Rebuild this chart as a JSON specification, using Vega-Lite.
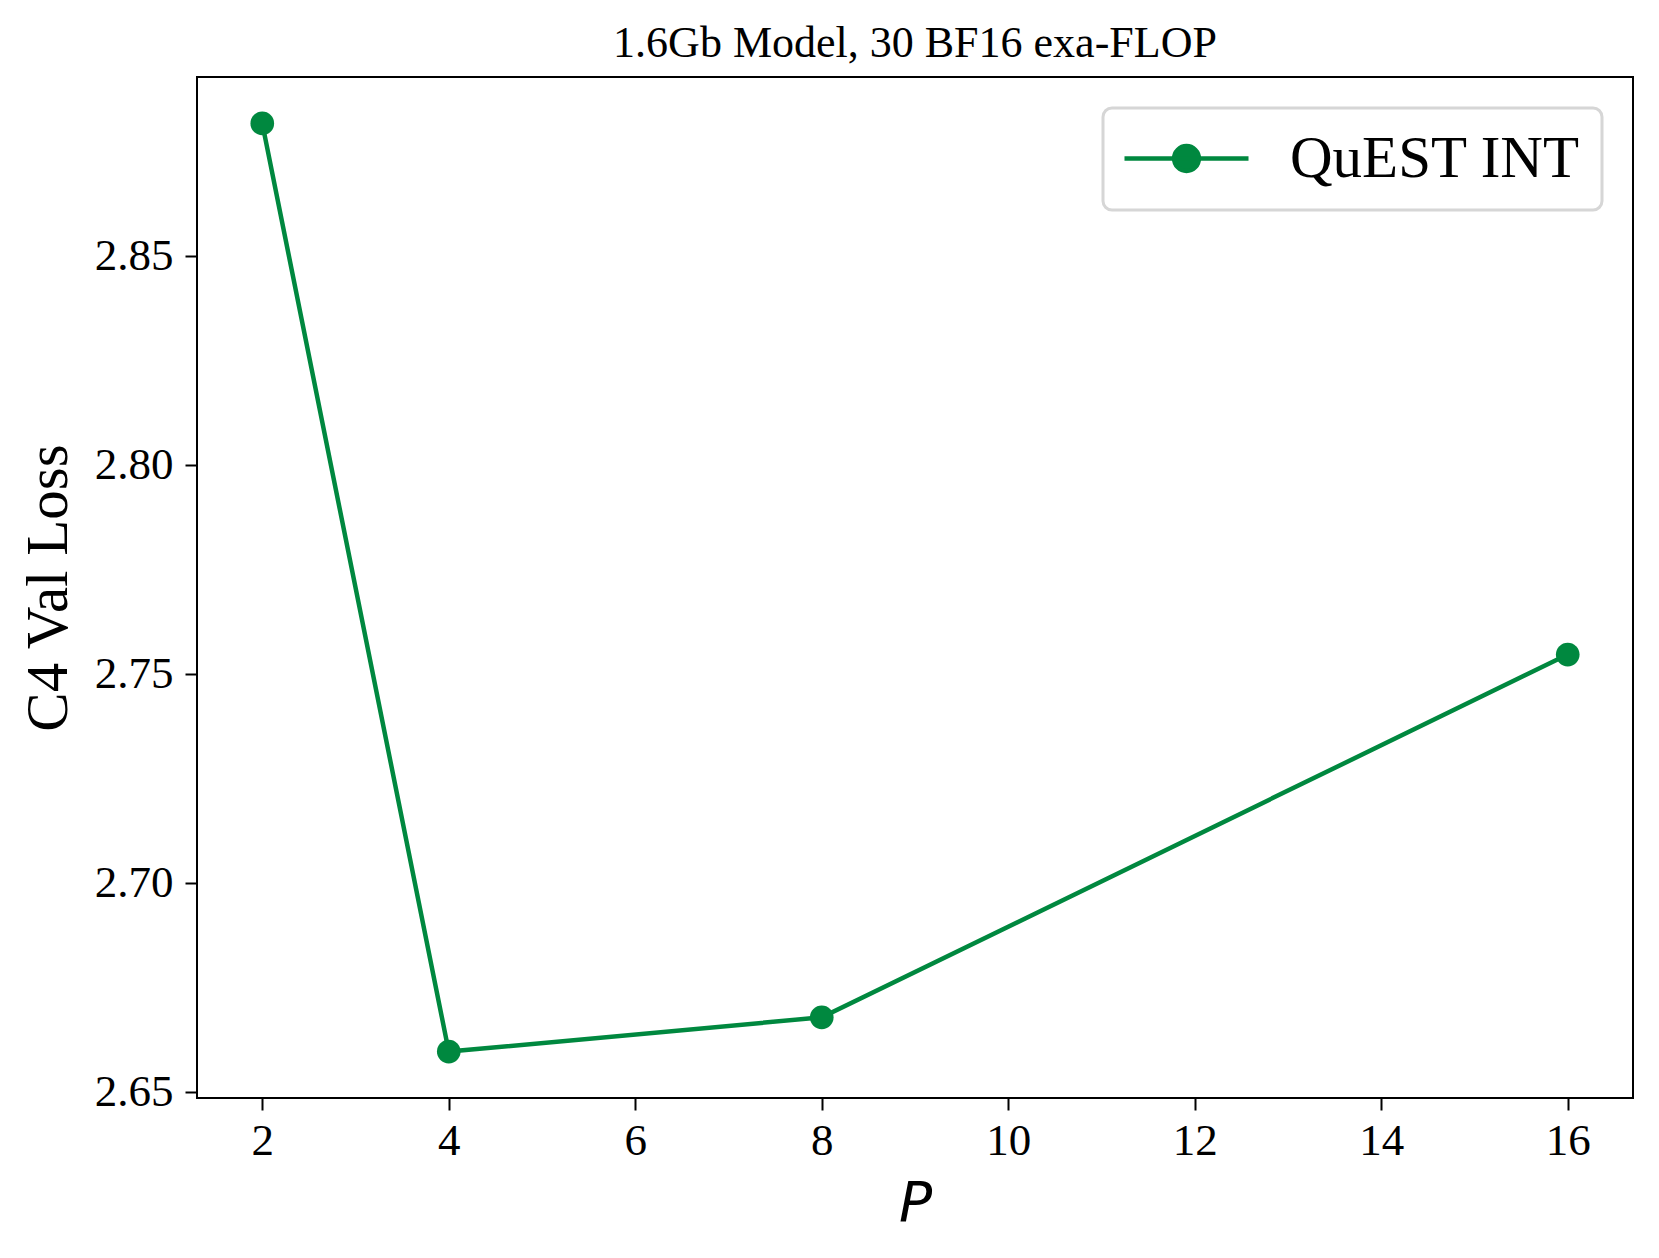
{
  "$schema": "https://vega.github.io/schema/vega-lite/v6.json",
  "autosize": {"type": "none"},
  "padding": {"left": 197, "top": 77, "right": 26, "bottom": 160},
  "width": 1436,
  "height": 1021,
  "background": "white",
  "title": {
    "text": "1.6Gb Model, 30 BF16 exa-FLOP",
    "font": "Liberation Serif",
    "fontSize": 44,
    "fontWeight": "normal",
    "color": "black",
    "baseline": "alphabetic",
    "offset": -24,
    "anchor": "middle"
  },
  "config": {
    "view": {"stroke": "black", "strokeWidth": 2},
    "axis": {
      "domain": false,
      "grid": false,
      "ticks": true,
      "tickColor": "black",
      "tickWidth": 2,
      "tickSize": 12,
      "labelFont": "Liberation Serif",
      "labelFontSize": 45,
      "labelColor": "black",
      "titleColor": "black",
      "titleFontWeight": "normal"
    }
  },
  "data": {
    "values": [
      {"P": 2, "loss": 2.8817, "series": "QuEST INT"},
      {"P": 4, "loss": 2.6596, "series": "QuEST INT"},
      {"P": 8, "loss": 2.6678, "series": "QuEST INT"},
      {"P": 16, "loss": 2.7546, "series": "QuEST INT"}
    ]
  },
  "encoding": {
    "x": {
      "field": "P",
      "type": "quantitative",
      "scale": {"domain": [1.3, 16.7], "nice": false, "zero": false},
      "axis": {
        "values": [2, 4, 6, 8, 10, 12, 14, 16],
        "title": "P",
        "titleFont": "DejaVu Sans",
        "titleFontStyle": "italic",
        "titleFontSize": 55,
        "titlePadding": 14,
        "labelPadding": 8
      }
    },
    "y": {
      "field": "loss",
      "type": "quantitative",
      "scale": {"domain": [2.6485, 2.8928], "nice": false, "zero": false},
      "axis": {
        "values": [2.65, 2.7, 2.75, 2.8, 2.85],
        "format": ".2f",
        "title": "C4 Val Loss",
        "titleFont": "Liberation Serif",
        "titleFontSize": 59,
        "titlePadding": 16,
        "labelPadding": 12
      }
    }
  },
  "layer": [
    {
      "mark": {"type": "line", "strokeWidth": 4.5, "color": "#00883f"}
    },
    {
      "mark": {"type": "point", "filled": true, "size": 560, "opacity": 1},
      "encoding": {
        "color": {
          "field": "series",
          "type": "nominal",
          "scale": {"range": ["#00883f"]},
          "legend": {
            "title": null,
            "orient": "none",
            "legendX": 906,
            "legendY": 31,
            "padding": 21,
            "cornerRadius": 9,
            "strokeColor": "#d6d6d6",
            "fillColor": "white",
            "labelFont": "Liberation Serif",
            "labelFontSize": 59,
            "labelColor": "black",
            "labelLimit": 0,
            "labelOffset": 74,
            "symbolOffset": 33,
            "symbolType": "M-3,0L3,0M-0.6,0A0.6,0.6 0 1,0 0.6,0A0.6,0.6 0 1,0 -0.6,0Z",
            "symbolSize": 1709,
            "symbolStrokeWidth": 4.5,
            "symbolStrokeColor": "#00883f",
            "symbolFillColor": "#00883f",
            "symbolOpacity": 1,
            "encode": {
              "legend": {"update": {"strokeWidth": {"value": 3}}},
              "symbols": {"update": {"fill": {"value": "#00883f"}, "stroke": {"value": "#00883f"}, "strokeWidth": {"value": 4.5}, "opacity": {"value": 1}}}
            }
          }
        }
      }
    }
  ]
}
